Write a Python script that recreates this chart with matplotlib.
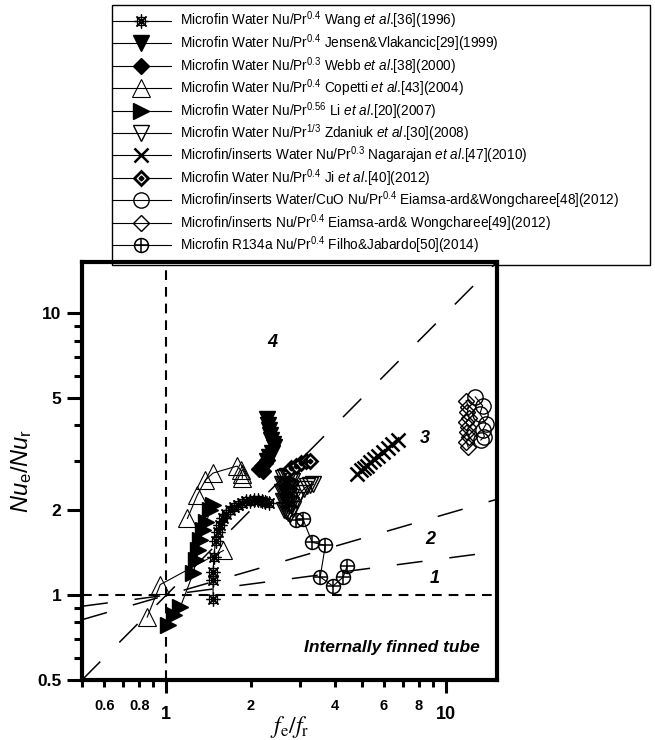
"""Nu_e/Nu_r vs f_e/f_r for internally finned tubes (log-log)"""
import numpy as np
import matplotlib
matplotlib.use('Agg')
import matplotlib.pyplot as plt
from matplotlib.patches import Rectangle
from matplotlib.legend_handler import HandlerTuple
from matplotlib.ticker import FixedLocator, FuncFormatter, NullFormatter

plt.rcParams['font.family'] = ['Liberation Sans', 'DejaVu Sans']
plt.rcParams['mathtext.fontset'] = 'custom'
plt.rcParams['mathtext.rm'] = 'Liberation Sans'
plt.rcParams['mathtext.it'] = 'Liberation Sans:italic'
plt.rcParams['mathtext.bf'] = 'Liberation Sans:bold'
plt.rcParams['lines.scale_dashes'] = False

# ---- data ----
wang_x = [1.47, 1.47, 1.47, 1.48, 1.50, 1.53, 1.56, 1.60, 1.64, 1.69, 1.74, 1.80,
          1.86, 1.92, 1.99, 2.05, 2.12, 2.19, 2.26, 2.33]
wang_y = [0.97, 1.13, 1.21, 1.37, 1.56, 1.68, 1.78, 1.87, 1.94, 2.00, 2.05, 2.09,
          2.12, 2.15, 2.16, 2.17, 2.17, 2.16, 2.14, 2.12]

jensen_x = [2.30, 2.31, 2.32, 2.35, 2.37, 2.40, 2.42, 2.38, 2.33, 2.30]
jensen_y = [4.20, 4.00, 3.85, 3.70, 3.55, 3.45, 3.35, 3.20, 3.10, 3.00]

webb_x = [2.15, 2.20, 2.25, 2.30, 2.22]
webb_y = [2.80, 2.88, 2.95, 3.02, 2.75]

copetti_x = [0.855, 0.952, 1.60, np.nan, 1.19, 1.29, 1.38, 1.47, 1.79, 1.85, 1.87, 1.87]
copetti_y = [0.836, 1.09, 1.44, np.nan, 1.87, 2.26, 2.56, 2.71, 2.87, 2.77, 2.68, 2.60]

li_x = [1.016, 1.068, 1.122, 1.249, 1.28, 1.30, 1.32, 1.355, 1.39, 1.436, 1.47]
li_y = [0.783, 0.849, 0.906, 1.197, 1.33, 1.445, 1.567, 1.70, 1.815, 2.00, 2.085]

zdaniuk_x = [2.62, 2.66, 2.70, 2.74, 2.78, 2.82, 2.60, 2.64, 2.68, 2.72, 2.77, 2.80,
             2.60, 2.63, 2.67, 2.71, 2.75, 2.79, 2.62, 2.66, 2.70, 2.74, 2.78, 2.64,
             2.68, 2.72, 2.76, 2.84, 2.91, 3.01, 3.10, 3.18, 3.27, 3.35]
zdaniuk_y = [2.60, 2.63, 2.64, 2.62, 2.58, 2.54, 2.48, 2.46, 2.44, 2.42, 2.40, 2.38,
             2.32, 2.30, 2.28, 2.26, 2.24, 2.22, 2.16, 2.14, 2.12, 2.10, 2.08, 2.00,
             1.98, 1.96, 1.94, 2.02, 2.17, 2.30, 2.38, 2.43, 2.46, 2.47]

nagarajan_x = [4.81, 4.97, 5.10, 5.22, 5.35, 5.53, 5.71, 5.96, 6.20, 6.42, 6.74]
nagarajan_y = [2.69, 2.77, 2.82, 2.87, 2.96, 3.03, 3.11, 3.21, 3.32, 3.43, 3.54]

ji_x = [2.78, 2.90, 3.02, 3.15, 3.27]
ji_y = [2.82, 2.88, 2.95, 3.00, 2.98]

eiamsa48_x = [12.7, 13.5, 13.2, 13.9, 13.5, 13.7, 13.3]
eiamsa48_y = [5.05, 4.70, 4.40, 4.05, 3.85, 3.65, 3.55]

eiamsa49_x = [11.8, 12.0, 11.9, 12.1, 11.8, 12.0, 11.9, 12.1, 11.8, 12.0]
eiamsa49_y = [4.90, 4.65, 4.45, 4.25, 4.10, 3.95, 3.80, 3.65, 3.50, 3.35]

filho_x = [2.91, 3.08, 3.32, 3.70, 3.55, 3.94, 4.29, 4.43]
filho_y = [1.845, 1.86, 1.54, 1.50, 1.16, 1.076, 1.16, 1.27]

labels = [
    r'Microfin Water Nu/Pr$^{0.4}$ Wang $\mathit{et\ al}$.[36](1996)',
    r'Microfin Water Nu/Pr$^{0.4}$ Jensen&Vlakancic[29](1999)',
    r'Microfin Water Nu/Pr$^{0.3}$ Webb $\mathit{et\ al}$.[38](2000)',
    r'Microfin Water Nu/Pr$^{0.4}$ Copetti $\mathit{et\ al}$.[43](2004)',
    r'Microfin Water Nu/Pr$^{0.56}$ Li $\mathit{et\ al}$.[20](2007)',
    r'Microfin Water Nu/Pr$^{1/3}$ Zdaniuk $\mathit{et\ al}$.[30](2008)',
    r'Microfin/inserts Water Nu/Pr$^{0.3}$ Nagarajan $\mathit{et\ al}$.[47](2010)',
    r'Microfin Water Nu/Pr$^{0.4}$ Ji $\mathit{et\ al}$.[40](2012)',
    r'Microfin/inserts Water/CuO Nu/Pr$^{0.4}$ Eiamsa-ard&Wongcharee[48](2012)',
    r'Microfin/inserts Nu/Pr$^{0.4}$ Eiamsa-ard& Wongcharee[49](2012)',
    r'Microfin R134a Nu/Pr$^{0.4}$ Filho&Jabardo[50](2014)',
]

# boundary lines (end points at x = 0.5 and x = 15)
ref_x = [0.5, 15.0]
line4_y = [0.5, 15.0]
line2_y = [0.818, 2.18]
line1_y = [0.913, 1.425]

x_major = [1, 10]
x_minor = [0.5, 0.6, 0.7, 0.8, 0.9, 2, 3, 4, 5, 6, 7, 8, 9]
x_minor_labels = {0.6: '0.6', 0.8: '0.8', 2: '2', 4: '4', 6: '6', 8: '8'}
y_major = [0.5, 1, 2, 5, 10]
y_minor = [0.6, 0.7, 0.8, 0.9, 3, 4, 6, 7, 8, 9]

# marker layers for each series
STYLES = [
    [dict(marker=(8, 2, 0), ms=10, mew=0.9), dict(marker='s', ms=6, mfc='none', mew=0.9)],
    [dict(marker='v', ms=11, mfc='k')],
    [dict(marker='D', ms=8.5, mfc='k')],
    [dict(marker='^', ms=13, mfc='none', mew=0.8)],
    [dict(marker='>', ms=12, mfc='k')],
    [dict(marker='v', ms=11, mfc='none', mew=1.0)],
    [dict(marker='x', ms=10, mew=1.8)],
    [dict(marker='D', ms=7.5, mfc='white', mew=2.0), dict(marker='D', ms=2.5, mfc='k')],
    [dict(marker='o', ms=11, mfc='none', mew=1.0)],
    [dict(marker='D', ms=8, mfc='none', mew=1.0)],
    [dict(marker='o', ms=10, mfc='none', mew=1.1), dict(marker='+', ms=10, mew=1.1)],
]

SERIES = [
    (wang_x, wang_y), (jensen_x, jensen_y), (webb_x, webb_y), (copetti_x, copetti_y),
    (li_x, li_y), (zdaniuk_x, zdaniuk_y), (nagarajan_x, nagarajan_y), (ji_x, ji_y),
    (eiamsa48_x, eiamsa48_y), (eiamsa49_x, eiamsa49_y), (filho_x, filho_y),
]


def plot_series(ax, x, y, layers):
    """画一个数据系列: 第一层带细连线, 其余层只画标记"""
    handles = []
    for i, st in enumerate(layers):
        ls = '-' if i == 0 else 'None'
        h, = ax.plot(x, y, linestyle=ls, lw=0.8, color='k', mec='k', zorder=4 + i, **st)
        handles.append(h)
    return tuple(handles)


fig = plt.figure(figsize=(6.55, 7.4), dpi=100)
ax = fig.add_axes([0.1252, 0.0811, 0.6336, 0.5649])
ax.set_xscale('log')
ax.set_yscale('log')
ax.set_xlim(0.5, 15.2)
ax.set_ylim(0.5, 15.2)

# 参考线
ax.plot(ref_x, line4_y, color='k', lw=1.1, ls=(0, (18.7, 19.4)), zorder=2)
ax.plot(ref_x, line2_y, color='k', lw=1.1, ls=(0, (18.7, 19.4)), zorder=2)
ax.plot(ref_x, line1_y, color='k', lw=1.1, ls=(0, (18.7, 19.4)), zorder=2)
ax.axhline(1, color='k', lw=1.5, ls=(0, (7, 5)), zorder=2)
ax.axvline(1, color='k', lw=1.5, ls=(0, (7, 5)), zorder=2)

handles = []
for (x, y), layers in zip(SERIES, STYLES):
    handles.append(plot_series(ax, x, y, layers))

# 区域标号
for txt, (tx, ty) in zip(['4', '3', '2', '1'], [(2.39, 7.9), (8.4, 3.6), (8.8, 1.57), (9.1, 1.15)]):
    ax.text(tx, ty, txt, fontsize=13, fontweight='bold', style='italic', ha='center', va='center')
ax.text(0.959, 0.077, 'Internally finned tube', transform=ax.transAxes, fontsize=12.5,
        fontweight='bold', style='italic', ha='right', va='center')

# 坐标轴
ax.xaxis.set_major_locator(FixedLocator(x_major))
ax.xaxis.set_minor_locator(FixedLocator(x_minor))
ax.xaxis.set_major_formatter(FuncFormatter(lambda v, p: f'{v:g}'))
ax.xaxis.set_minor_formatter(FuncFormatter(lambda v, p: x_minor_labels.get(round(v, 2), '')))
ax.yaxis.set_major_locator(FixedLocator(y_major))
ax.yaxis.set_minor_locator(FixedLocator(y_minor))
ax.yaxis.set_major_formatter(FuncFormatter(lambda v, p: f'{v:g}'))
ax.yaxis.set_minor_formatter(NullFormatter())

for s in ax.spines.values():
    s.set_linewidth(3)
ax.tick_params(axis='x', which='major', direction='out', length=9.5, width=2.2, pad=9, labelsize=13)
ax.tick_params(axis='x', which='minor', direction='out', length=5, width=2.2, pad=9, labelsize=10.5)
ax.tick_params(axis='y', which='major', direction='out', length=10.8, width=2.2, pad=4, labelsize=12.5)
ax.tick_params(axis='y', which='minor', direction='out', length=5.8, width=2.2)
for lab in ax.get_xticklabels(which='both') + ax.get_yticklabels():
    lab.set_fontweight('bold')

ax.set_ylabel(r'$Nu_{\mathrm{e}}/Nu_{\mathrm{r}}$', fontsize=17)
ax.yaxis.set_label_coords(-0.115, 0.5)
ax.set_xlabel(r'$f_{\mathrm{e}}/f_{\mathrm{r}}$', fontsize=17, math_fontfamily='stix')
ax.xaxis.set_label_coords(0.5, -0.082)

# 图例 (边框单独画, 下边留白比上边大)
leg = fig.legend(handles, labels, loc='upper left', bbox_to_anchor=(0.1638, 0.9932),
                 fontsize=9.8, handlelength=4.3, handletextpad=0.7,
                 labelspacing=0.07, borderpad=0.35, borderaxespad=0, frameon=False,
                 handler_map={tuple: HandlerTuple(ndivide=1, pad=0)})
fig.patches.append(Rectangle((112 / 655, 1 - 265 / 740), 538 / 655, 260 / 740,
                             transform=fig.transFigure, fill=False, edgecolor='k',
                             lw=1.0, zorder=1))

fig.savefig('out.png', dpi=100)
